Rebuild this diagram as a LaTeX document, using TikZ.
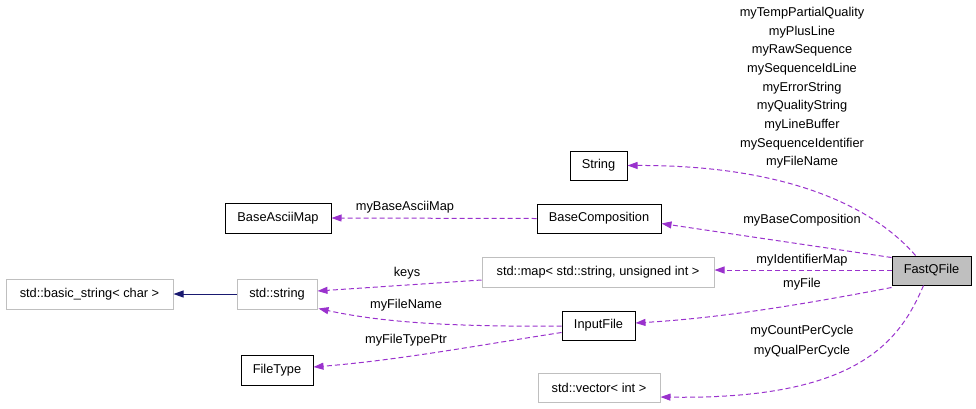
\documentclass[tikz,border=0pt]{standalone}
\usepackage{fontspec}
\setmainfont{Liberation Sans}
\usetikzlibrary{arrows.meta,calc}
\definecolor{rel}{HTML}{9A32CD}
\definecolor{inh}{HTML}{191970}
\definecolor{gbox}{HTML}{BFBFBF}
\tikzset{
  box/.style={draw=black,line width=1pt,inner sep=0pt,font=\fontsize{12.8}{15}\selectfont},
  gbox/.style={draw=gbox,line width=1pt,inner sep=0pt,font=\fontsize{12.8}{15}\selectfont},
  relline/.style={draw=rel,line width=1pt,dash pattern=on 5pt off 3pt,-{Triangle[length=10pt,width=7pt]}},
  inhline/.style={draw=inh,line width=1pt,-{Triangle[length=10pt,width=7pt]}},
  lbl/.style={font=\fontsize{12.8}{15}\selectfont,inner sep=0pt}
}
\begin{document}
\begin{tikzpicture}[x=1pt,y=-1pt]
\useasboundingbox (0,0) rectangle (976,408);
% nodes
\node[box,fill=gbox,minimum width=79pt,minimum height=29pt] (fq) at (931.5,270.5) {FastQFile};
\node[box,minimum width=57pt,minimum height=29pt] (str) at (598.5,165.5) {String};
\node[box,minimum width=124pt,minimum height=29pt] (bc) at (599,218.5) {BaseComposition};
\node[gbox,minimum width=232pt,minimum height=30pt] (map) at (598,272) {std::map< std::string, unsigned int >};
\node[box,minimum width=73pt,minimum height=29pt] (inf) at (598.5,325.5) {InputFile};
\node[gbox,minimum width=122pt,minimum height=29pt] (vec) at (599,387.5) {std::vector< int >};
\node[box,minimum width=106pt,minimum height=30pt] (bam) at (278,218) {BaseAsciiMap};
\node[gbox,minimum width=167pt,minimum height=30pt] (bstr) at (89.5,294) {std::basic\_string< char >};
\node[gbox,minimum width=80pt,minimum height=30pt] (sstr) at (277,294) {std::string};
\node[box,minimum width=72pt,minimum height=30pt] (ft) at (277,370) {FileType};
% edges
\draw[relline] ($(fq.north)+(-16,0)$) .. controls (870,203) and (780,165) .. (str.east);
\draw[relline] ($(fq.north west)+(0,2)$) -- ($(bc.east)+(0,5)$);
\draw[relline] ($(fq.west)+(0,-0.5)$) -- ($(map.east)+(0,-2)$);
\draw[relline] ($(fq.south west)+(0,2)$) .. controls (800,305) and (720,318) .. ($(inf.east)+(0,-2.5)$);
\draw[relline] ($(fq.south)+(-8,0)$) .. controls (900,340) and (860,400) .. ($(vec.east)+(0,9.5)$);
\draw[relline] (bc.west) -- (bam.east);
\draw[relline] ($(map.west)+(0,8)$) -- ($(sstr.east)+(0,-3)$);
\draw[relline] ($(inf.west)+(0,0.5)$) .. controls (450,327) and (380,322) .. ($(sstr.south east)+(1,-1)$);
\draw[relline] ($(inf.west)+(0,7)$) .. controls (480,345) and (400,360) .. ($(ft.east)+(0,-3)$);
\draw[inhline] (sstr.west) -- (bstr.east);
% labels
\node[lbl] (l1) at (802,13) {myTempPartialQuality};
\node[lbl] (l2) at (802,32) {myPlusLine};
\node[lbl] (l3) at (802,50) {myRawSequence};
\node[lbl] (l4) at (802,69) {mySequenceIdLine};
\node[lbl] (l5) at (802,88) {myErrorString};
\node[lbl] (l6) at (802,106) {myQualityString};
\node[lbl] (l7) at (802,125) {myLineBuffer};
\node[lbl] (l8) at (802,144) {mySequenceIdentifier};
\node[lbl] (l9) at (802,162) {myFileName};
\node[lbl] (lbc) at (802,220) {myBaseComposition};
\node[lbl] (lmap) at (802,260) {myIdentifierMap};
\node[lbl] (lfile) at (802,284) {myFile};
\node[lbl] (lcpc) at (802,331) {myCountPerCycle};
\node[lbl] (lqpc) at (802,351) {myQualPerCycle};
\node[lbl] (lbam) at (405,207) {myBaseAsciiMap};
\node[lbl] (lkeys) at (407,273) {keys};
\node[lbl] (lfn) at (406,305) {myFileName};
\node[lbl] (lftp) at (406,340) {myFileTypePtr};
\end{tikzpicture}
\end{document}
